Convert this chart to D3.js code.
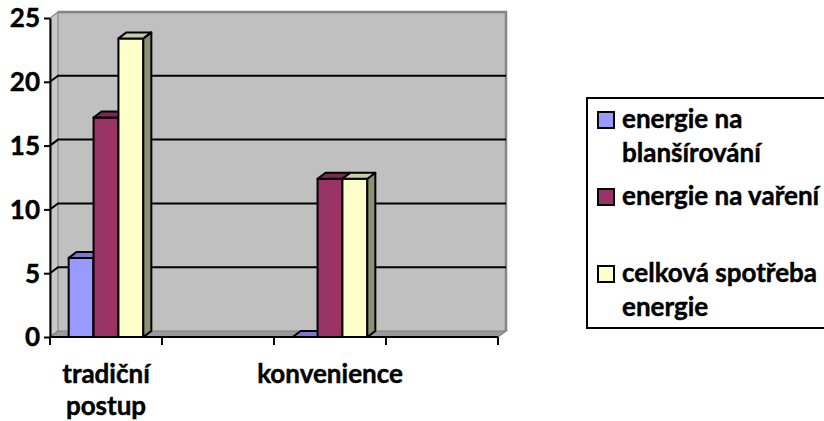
<!DOCTYPE html>
<html><head><meta charset="utf-8">
<script src="https://cdn.jsdelivr.net/npm/d3@7"></script>
<style>
body{margin:0;background:#fff}
text{font-family:Lato,"Open Sans",sans-serif;font-weight:bold;fill:#000;stroke:#000;stroke-width:0.45px}
</style>
</head><body>
<svg id="c" width="824" height="421"></svg>
<script>
// ---- data ----
const categories = ["tradiční postup", "", "konvenience", ""];
const seriesNames = ["energie na blanšírování", "energie na vaření", "celková spotřeba energie"];
const blansirovani = [6.2, null, 0, null];
const vareni = [17.2, null, 12.4, null];
const celkova = [23.4, null, 12.4, null];
const yTicks = [0, 5, 10, 15, 20, 25];
const legendLines = [["energie na", "blanšírování"], ["energie na vaření"], ["celková spotřeba", "energie"]];

// ---- style ----
const series = [blansirovani, vareni, celkova];
const fronts = ["#9999FF", "#993366", "#FFFFCC"];
const tops = ["#7A7ACC", "#7A2952", "#CCCCA3"];
const sides = ["#5C5C99", "#5C1F3D", "#8F8F72"];
const DX = 8, DY = -6;
const fontSize = 26;

const svg = d3.select("#c");
const x0 = d3.scaleBand().domain(d3.range(categories.length)).range([50, 498]).padding(0);
const x1 = d3.scaleBand().domain(d3.range(series.length)).range([0, x0.bandwidth()])
  .paddingInner(0).paddingOuter(0.75);
const y = d3.scaleLinear().domain([0, 25]).range([337, 18]);

const X0 = x0.range()[0], X1 = x0.range()[1];
const Y0 = y(0), Y1 = y(25);

// walls
svg.append("rect").attr("x", X0 + DX).attr("y", Y1 + DY)
  .attr("width", X1 - X0).attr("height", Y0 - Y1)
  .attr("fill", "#C0C0C0");
// side wall
svg.append("path")
  .attr("d", `M${X0},${Y0}L${X0},${Y1}L${X0 + DX},${Y1 + DY}L${X0 + DX},${Y0 + DY}Z`)
  .attr("fill", "#C8C8C8").attr("stroke", "#888").attr("stroke-width", 1.2);
// floor
svg.append("path")
  .attr("d", `M${X0},${Y0}L${X1},${Y0}L${X1 + DX},${Y0 + DY}L${X0 + DX},${Y0 + DY}Z`)
  .attr("fill", "#9A9A9A").attr("stroke", "#808080").attr("stroke-width", 1.2);
// back wall border top/right
svg.append("path")
  .attr("d", `M${X0 + DX},${Y1 + DY}L${X1 + DX},${Y1 + DY}L${X1 + DX},${Y0 + DY}`)
  .attr("fill", "none").attr("stroke", "#858585").attr("stroke-width", 2.5);

// gridlines
yTicks.filter(t => t > 0 && t < 25).forEach(t => {
  svg.append("path")
    .attr("d", `M${X0},${y(t)}L${X0 + DX},${y(t) + DY}L${X1 + DX},${y(t) + DY}`)
    .attr("fill", "none").attr("stroke", "#000").attr("stroke-width", 2);
});

// bars
categories.forEach((c, i) => {
  series.forEach((arr, s) => {
    const v = arr[i];
    if (v === null || v === undefined) return;
    const xl = x0(i) + x1(s), xr = xl + x1.bandwidth();
    const yt = y(v);
    const g = svg.append("g").attr("stroke", "#000").attr("stroke-width", 2).attr("stroke-linejoin", "round");
    g.append("path").attr("d", `M${xl},${Y0}L${xl},${yt}L${xr},${yt}L${xr},${Y0}Z`).attr("fill", fronts[s]);
    g.append("path").attr("d", `M${xr},${Y0}L${xr},${yt}L${xr + DX},${yt + DY}L${xr + DX},${Y0 + DY}Z`).attr("fill", sides[s]);
    g.append("path").attr("d", `M${xl},${yt}L${xl + DX},${yt + DY}L${xr + DX},${yt + DY}L${xr},${yt}Z`).attr("fill", tops[s]);
  });
});

// y axis
const ya = svg.append("g").attr("transform", `translate(${X0},0)`)
  .call(d3.axisLeft(y).tickValues(yTicks).tickSize(6).tickSizeOuter(0).tickPadding(4));
ya.select(".domain").attr("stroke", "#000").attr("stroke-width", 2);
ya.selectAll(".tick line").attr("stroke", "#000").attr("stroke-width", 2);
ya.selectAll(".tick text").attr("font-size", fontSize).attr("font-family", null).attr("dy", "0.34em");

// x axis
const xa = svg.append("g");
xa.append("line").attr("x1", X0).attr("x2", X1).attr("y1", Y0).attr("y2", Y0)
  .attr("stroke", "#000").attr("stroke-width", 2);
const bounds = d3.range(categories.length).map(i => x0(i)).concat([X1]);
xa.selectAll("line.t").data(bounds).join("line").attr("class", "t")
  .attr("x1", d => d).attr("x2", d => d).attr("y1", Y0).attr("y2", Y0 + 8)
  .attr("stroke", "#000").attr("stroke-width", 2);
categories.forEach((c, i) => {
  if (!c) return;
  const words = c.split(" ");
  words.forEach((w, k) => {
    xa.append("text").attr("text-anchor", "middle").attr("font-size", fontSize)
      .attr("x", x0(i) + x0.bandwidth() / 2).attr("y", 383 + k * 32).text(w);
  });
});

// legend
const lg = svg.append("g");
lg.append("rect").attr("x", 587).attr("y", 98).attr("width", 300).attr("height", 230)
  .attr("fill", "#fff").attr("stroke", "#000").attr("stroke-width", 2);
seriesNames.forEach((n, s) => {
  const base = 128 + s * 77;
  lg.append("rect").attr("x", 598).attr("y", base - 16).attr("width", 16).attr("height", 16)
    .attr("fill", fronts[s]).attr("stroke", "#000").attr("stroke-width", 2);
  const t = lg.append("text").attr("font-size", fontSize);
  legendLines[s].forEach((l, k) => {
    t.append("tspan").attr("x", 622).attr("y", base + k * 34).text(l);
  });
});
</script>
</body></html>
